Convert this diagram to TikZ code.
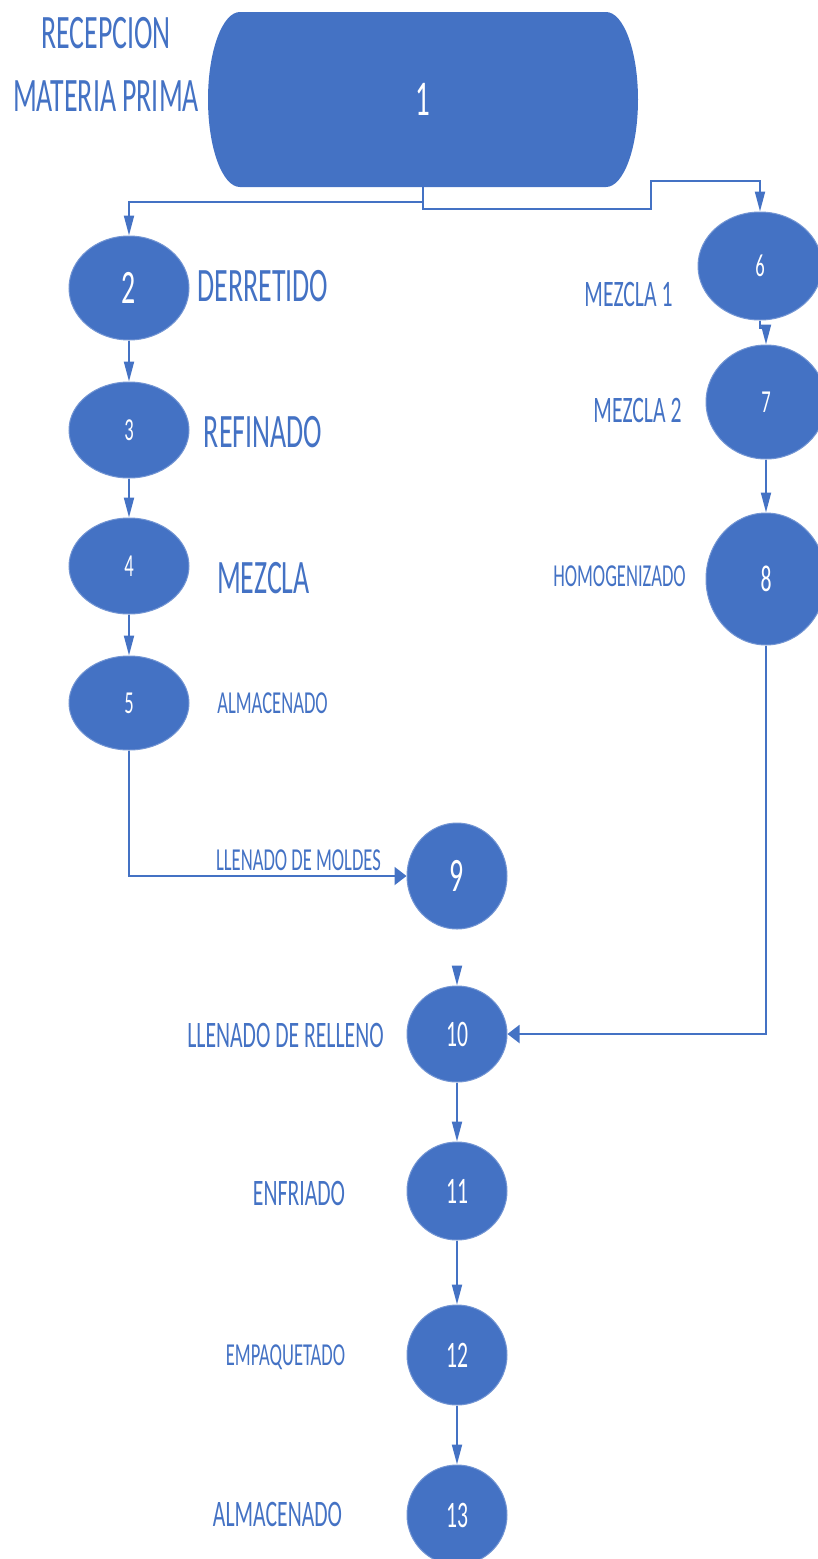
\documentclass[tikz,border=0pt]{standalone}
\usepackage{fontspec}
\setmainfont{Carlito}
\usetikzlibrary{arrows.meta,shapes.geometric}
\definecolor{obl}{HTML}{4472C4}
\newcommand{\sq}[1]{\scalebox{0.58}[1]{#1}}
\tikzset{
  blob/.style={ellipse, fill=obl, draw=obl!75!white, line width=0.5pt, inner sep=0pt, text=white},
  lbl/.style={text=obl, inner sep=0pt, text depth=0pt},
  big/.style={font=\fontsize{24}{28}\selectfont},
  mid/.style={font=\fontsize{18.7}{22}\selectfont},
  sml/.style={font=\fontsize{16}{19}\selectfont},
  conn/.style={draw=obl, line width=1pt},
  va/.style={conn, -{Triangle[length=10pt,width=5pt]}},
  ha/.style={conn, -{Triangle[length=6pt,width=9pt]}},
}
\begin{document}
\begin{tikzpicture}[x=0.5pt,y=-0.5pt]
\useasboundingbox (0,0) rectangle (818,1559);
% shape 1
\fill[obl] (240,12) -- (606,12) .. controls (623.7,12) and (638,51.2) .. (638,99.5)
  .. controls (638,147.8) and (623.7,187) .. (606,187) -- (240,187)
  .. controls (222.3,187) and (208,147.8) .. (208,99.5)
  .. controls (208,51.2) and (222.3,12) .. (240,12) -- cycle;
\node[inner sep=0pt, minimum width=215pt, minimum height=87.5pt, text=white, font=\fontsize{25}{30}\selectfont] (n1) at (423,99.5) {\sq{1}};
% ellipses
\node[blob, minimum width=60pt, minimum height=52pt, big] (n2) at (129,288) {\sq{2}};
\node[blob, minimum width=60pt, minimum height=48pt, sml] (n3) at (129,430) {\sq{3}};
\node[blob, minimum width=60pt, minimum height=48pt, sml] (n4) at (129,566) {\sq{4}};
\node[blob, minimum width=60pt, minimum height=47pt, sml] (n5) at (129,703) {\sq{5}};
\node[blob, minimum width=62pt, minimum height=54pt, sml] (n6) at (760,266) {\sq{6}};
\node[blob, minimum width=60pt, minimum height=57pt, sml] (n7) at (766,402) {\sq{7}};
\node[blob, minimum width=60pt, minimum height=66pt, mid] (n8) at (766,579) {\sq{8}};
\node[blob, minimum width=50pt, minimum height=53pt, big] (n9) at (457,876) {\sq{9}};
\node[blob, minimum width=50pt, minimum height=48pt, mid] (n10) at (457,1034) {\sq{10}};
\node[blob, minimum width=50pt, minimum height=49pt, mid] (n11) at (457,1191) {\sq{11}};
\node[blob, minimum width=50pt, minimum height=50pt, mid] (n12) at (457,1355) {\sq{12}};
\node[blob, minimum width=50pt, minimum height=50pt, mid] (n13) at (457,1515) {\sq{13}};
% labels
\node[lbl, big] (t1a) at (106,33) {\sq{RECEPCION}};
\node[lbl, big] (t1b) at (106,96) {\sq{MATERIA PRIMA}};
\node[lbl, big] (t2) at (263,286) {\sq{DERRETIDO}};
\node[lbl, big] (t3) at (263,432) {\sq{REFINADO}};
\node[lbl, big] (t4) at (263.5,578) {\sq{MEZCLA}};
\node[lbl, sml] (t5) at (272.5,703) {\sq{ALMACENADO}};
\node[lbl, mid] (t6) at (628.5,294) {\sq{MEZCLA 1}};
\node[lbl, mid] (t7) at (637.5,410) {\sq{MEZCLA 2}};
\node[lbl, sml] (t8) at (619.5,576) {\sq{HOMOGENIZADO}};
\node[lbl, sml] (t9) at (298.5,860) {\sq{LLENADO DE MOLDES}};
\node[lbl, mid] (t10) at (285.5,1035) {\sq{LLENADO DE RELLENO}};
\node[lbl, mid] (t11) at (299,1193) {\sq{ENFRIADO}};
\node[lbl, sml] (t12) at (285.5,1355) {\sq{EMPAQUETADO}};
\node[lbl, mid] (t13) at (277.5,1514) {\sq{ALMACENADO}};
% connectors
\coordinate (j1) at (423,202);
\coordinate (j2) at (423,209);
\coordinate (j3) at (651,209);
\coordinate (j4) at (651,181);
\coordinate (j5) at (760,328);
\coordinate (j6) at (766,328);
\coordinate (s9) at (457,966);
\draw[va] (n1.south) -- (j1) -| (n2.north);
\draw[va] (n1.south) -- (j2) -- (j3) -- (j4) -| (n6.north);
\draw[va] (n2) -- (n3);
\draw[va] (n3) -- (n4);
\draw[va] (n4) -- (n5);
\draw[va] (n6.south) -- (j5) -- (j6) -- (n7.north);
\draw[va] (n7) -- (n8);
\draw[ha] (n5.south) |- (n9.west);
\draw[va] (s9) -- (n10.north);
\draw[ha] (n8.south) |- (n10.east);
\draw[va] (n10) -- (n11);
\draw[va] (n11) -- (n12);
\draw[va] (n12) -- (n13);
\end{tikzpicture}
\end{document}
